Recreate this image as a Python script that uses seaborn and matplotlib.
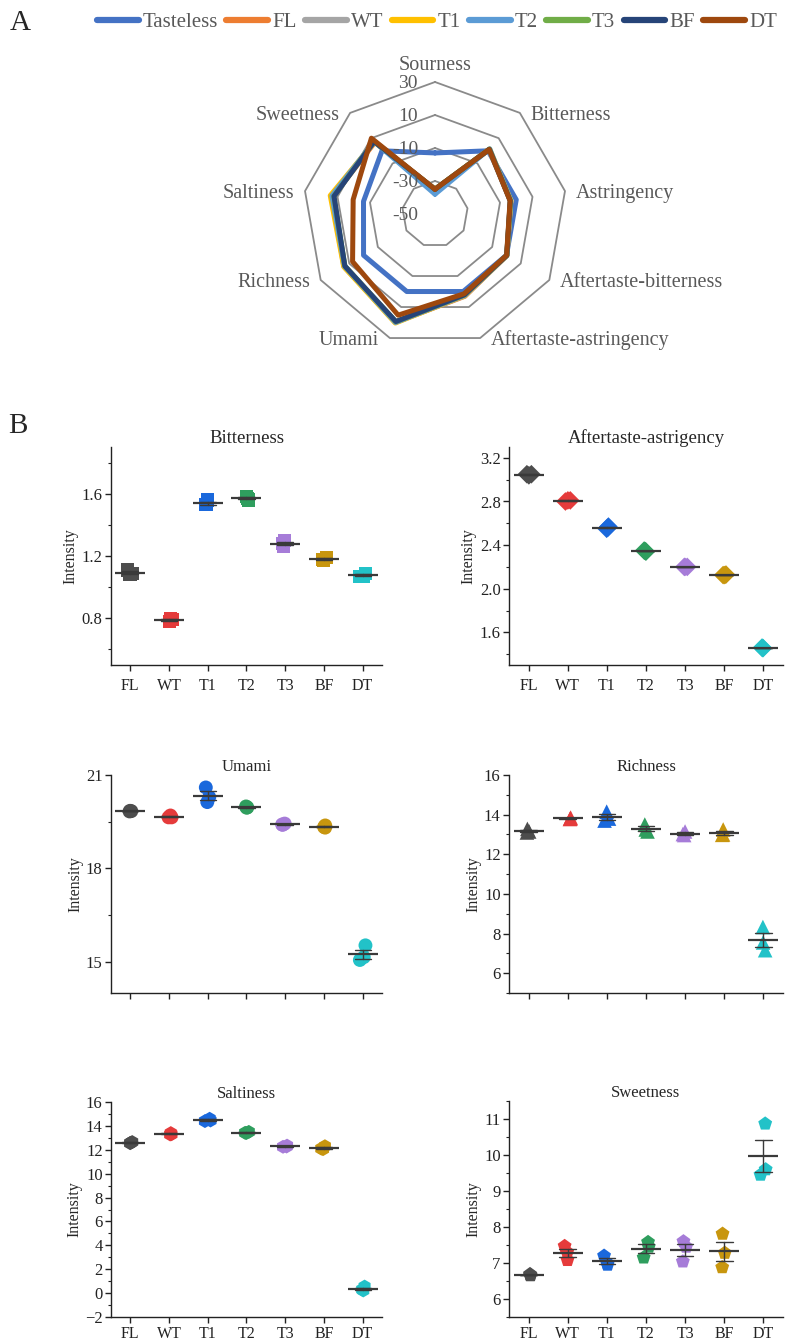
import numpy as np
import pandas as pd
import matplotlib.pyplot as plt
from matplotlib.lines import Line2D
from matplotlib.ticker import MultipleLocator
import seaborn as sns

sns.set_theme(style='ticks')
plt.rcParams['font.family'] = ['Liberation Serif', 'DejaVu Serif']
plt.rcParams['axes.edgecolor'] = '#222222'
plt.rcParams['xtick.color'] = '#222222'
plt.rcParams['ytick.color'] = '#222222'

W, H = 787, 1342

# ---------------- panel A data (radar) ----------------
attributes = ['Sourness', 'Bitterness', 'Astringency', 'Aftertaste-bitterness',
              'Aftertaste-astringency', 'Umami', 'Richness', 'Saltiness', 'Sweetness']
radar_samples = ['Tasteless', 'FL', 'WT', 'T1', 'T2', 'T3', 'BF', 'DT']
tasteless = [-13, 0, 0, 0, 0, 0, 0, -6, 0]
r_fl = [-35, 1.09, -3.4, 0.3, 3.05, 19.84, 13.18, 12.59, 6.67]
r_wt = [-35, 0.79, -3.6, 0.2, 2.81, 19.66, 13.81, 13.33, 7.28]
r_t1 = [-35, 1.54, -3.3, 0.3, 2.56, 20.34, 13.88, 14.48, 7.05]
r_t2 = [-38, 1.57, -3.5, 0.3, 2.35, 19.97, 13.30, 13.44, 7.39]
r_t3 = [-35, 1.28, -3.6, 0.2, 2.20, 19.42, 13.05, 12.29, 7.36]
r_bf = [-35, 1.18, -3.7, 0.2, 2.13, 19.34, 13.08, 12.15, 7.32]
r_dt = [-35, 1.08, -3.8, 0.1, 1.46, 15.25, 7.68, 0.36, 9.97]
radar_colors = ['#4472C4', '#ED7D31', '#A5A5A5', '#FFC000', '#5B9BD5', '#70AD47', '#264478', '#9E480E']
rings = [-30, -10, 10, 30]
ring_labels = [30, 10, -10, -30, -50]
r_min = -50

# ---------------- panel B data (replicates) ----------------
groups = ['FL', 'WT', 'T1', 'T2', 'T3', 'BF', 'DT']
group_colors = ['#4d4d4d', '#e53b3b', '#1a68dc', '#2f9e5e', '#a67cd8', '#c8960e', '#22c2c8']
bitterness = [[1.11, 1.09, 1.08], [0.80, 0.79, 0.78], [1.56, 1.53, 1.53], [1.58, 1.57, 1.56],
              [1.30, 1.28, 1.26], [1.19, 1.18, 1.17], [1.09, 1.07, 1.07]]
aft_astr = [[3.05, 3.05, 3.04], [2.81, 2.80, 2.81], [2.57, 2.56, 2.55], [2.35, 2.34, 2.345],
            [2.20, 2.20, 2.20], [2.13, 2.125, 2.125], [1.46, 1.455, 1.455]]
umami = [[19.84, 19.83, 19.85], [19.70, 19.64, 19.64], [20.60, 20.29, 20.13], [19.99, 19.96, 19.95],
         [19.44, 19.41, 19.40], [19.38, 19.33, 19.31], [15.53, 15.15, 15.06]]
richness = [[13.28, 13.15, 13.10], [13.85, 13.80, 13.78], [14.15, 13.80, 13.70], [13.50, 13.25, 13.15],
            [13.15, 13.02, 12.97], [13.25, 13.00, 12.98], [8.33, 7.55, 7.16]]
saltiness = [[12.65, 12.58, 12.55], [13.40, 13.30, 13.28], [14.60, 14.45, 14.40], [13.50, 13.42, 13.40],
             [12.35, 12.27, 12.25], [12.30, 12.10, 12.05], [0.55, 0.30, 0.22]]
sweetness = [[6.69, 6.66, 6.66], [7.47, 7.30, 7.08], [7.20, 7.00, 6.95], [7.58, 7.45, 7.15],
             [7.60, 7.45, 7.04], [7.81, 7.28, 6.88], [10.87, 9.60, 9.45]]


def px_axes(fig, l, t, r, b):
    return fig.add_axes([l / W, 1 - b / H, (r - l) / W, (b - t) / H])


fig = plt.figure(figsize=(W / 100, H / 100), dpi=100)
fig.set_facecolor('white')

# ---------------- radar ----------------
scale = 1.65  # px per unit
cx, cy = 435, 214
axr = px_axes(fig, cx - 200, cy - 160, cx + 200, cy + 160)
axr.set_xlim(-200 / scale, 200 / scale)
axr.set_ylim(-160 / scale, 160 / scale)
axr.axis('off')

theta = np.deg2rad(90 - 40 * np.arange(len(attributes)))
for rv in rings:
    rr = rv - r_min
    axr.plot(np.append(rr * np.cos(theta), rr * np.cos(theta[0])),
             np.append(rr * np.sin(theta), rr * np.sin(theta[0])),
             color='#8a8a8a', lw=1.3, zorder=1)

series = [tasteless, r_fl, r_wt, r_t1, r_t2, r_t3, r_bf, r_dt]
rows = []
for name, vals in zip(radar_samples, series):
    for k in list(range(len(attributes))) + [0]:
        rr = vals[k] - r_min
        rows.append({'sample': name, 'x': rr * np.cos(theta[k]), 'y': rr * np.sin(theta[k])})
radar_df = pd.DataFrame(rows)
sns.lineplot(data=radar_df, x='x', y='y', hue='sample', hue_order=radar_samples,
             palette=radar_colors, sort=False, estimator=None, lw=3.6, legend=False,
             solid_joinstyle='round', ax=axr, zorder=3)
axr.set_xlabel('')
axr.set_ylabel('')

outer = rings[-1] - r_min
for k, att in enumerate(attributes):
    vx, vy = outer * np.cos(theta[k]), outer * np.sin(theta[k])
    if k == 0:
        axr.text(vx, vy + 7, att, ha='center', va='baseline', fontsize=14.5, color='#595959')
    elif np.cos(theta[k]) > 0:
        axr.text(vx + 6.5, vy - 1.5, att, ha='left', va='center', fontsize=14.5, color='#595959')
    else:
        axr.text(vx - 6.5, vy - 1.5, att, ha='right', va='center', fontsize=14.5, color='#595959')
for lv in ring_labels:
    axr.text(-10.3, lv - r_min - 1.2, str(lv), ha='right', va='center', fontsize=14, color='#595959')

handles = [Line2D([], [], color=c, lw=4.5, solid_capstyle='round') for c in radar_colors]
fig.legend(handles, radar_samples, loc='upper center', bbox_to_anchor=(437 / W, 1 - 4 / H),
           ncol=8, frameon=False, fontsize=15, handlelength=2.0, handletextpad=0.2,
           columnspacing=0.4, borderaxespad=0, labelcolor='#595959')

fig.text(10 / W, 1 - 30 / H, 'A', fontsize=21, ha='left', va='baseline')
fig.text(8 / W, 1 - 433 / H, 'B', fontsize=21, ha='left', va='baseline')


# ---------------- scatter panels ----------------
np.random.seed(7)


def panel(box, title, vals, marker, size, ylim, major, minor, title_size, xlabels=True, xpad=5):
    ax = px_axes(fig, *box)
    df = pd.DataFrame({'group': np.repeat(groups, 3), 'value': np.concatenate(vals)})
    sns.stripplot(data=df, x='group', y='value', hue='group', hue_order=groups, order=groups,
                  palette=group_colors, marker=marker, size=size, jitter=0.08, linewidth=0,
                  legend=False, ax=ax, zorder=2)
    sns.pointplot(data=df, x='group', y='value', order=groups, errorbar='se', color='#3a3a3a',
                  marker='_', markersize=21, markeredgewidth=1.6, linestyle='none',
                  capsize=0.42, err_kws={'linewidth': 1.0}, ax=ax, zorder=3)
    ax.set_xlim(-0.5, 6.5)
    ax.set_ylim(*ylim)
    ax.yaxis.set_major_locator(MultipleLocator(major))
    ax.yaxis.set_minor_locator(MultipleLocator(minor))
    for s in ['top', 'right']:
        ax.spines[s].set_visible(False)
    for s in ['left', 'bottom']:
        ax.spines[s].set_linewidth(1.0)
    ax.tick_params(axis='both', which='major', direction='out', length=4, width=1,
                   labelsize=12, pad=2)
    ax.tick_params(axis='y', which='minor', direction='out', length=2.5, width=0.8)
    ax.tick_params(axis='x', labelsize=11.5, pad=xpad)
    ax.set_xlabel('')
    ax.set_ylabel('Intensity', fontsize=11.5, labelpad=2)
    ax.set_title(title, fontsize=title_size, pad=3)
    if not xlabels:
        ax.set_xticklabels([])
    ax.grid(False)
    return ax


panel((111, 447, 382, 665), 'Bitterness', bitterness, 's', 9.5, (0.5, 1.9), 0.4, 0.2, 13.5)
panel((509, 447, 783, 665), 'Aftertaste-astrigency', aft_astr, 'D', 9.5, (1.3, 3.3), 0.4, 0.2, 13.5)
panel((111, 775, 382, 993), 'Umami', umami, 'o', 10, (14, 21), 3, 1.5, 12, xlabels=False)
panel((509, 775, 783, 993), 'Richness', richness, '^', 10.5, (5, 16), 2, 1, 12, xlabels=False)
panel((111, 1102, 382, 1317), 'Saltiness', saltiness, 'h', 10, (-2, 16), 2, 1, 12, xpad=2.5)
panel((509, 1101, 783, 1317), 'Sweetness', sweetness, 'p', 10.5, (5.5, 11.5), 1, 0.5, 12, xpad=2.5)

fig.savefig('out.png', dpi=100, facecolor='white')
